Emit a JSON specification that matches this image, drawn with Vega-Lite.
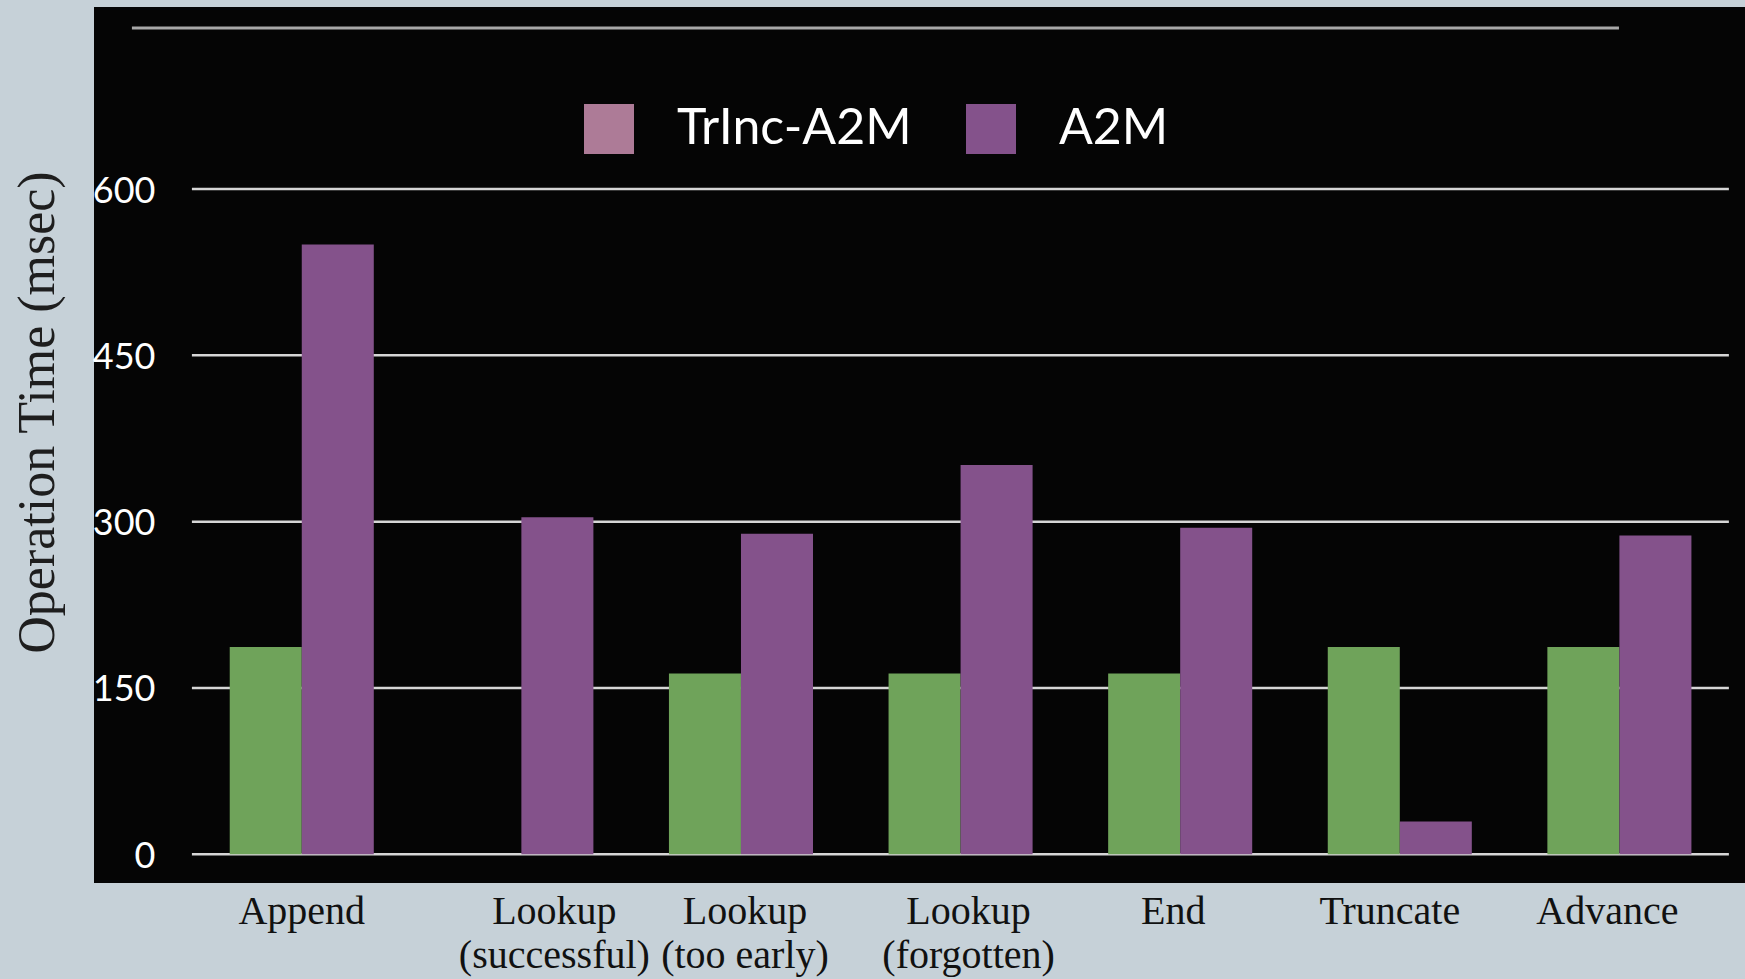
{
  "$schema": "https://vega.github.io/schema/vega-lite/v6.json",
  "width": 1651,
  "height": 876,
  "autosize": {"type": "none"},
  "padding": {"left": 94, "top": 7, "right": 0, "bottom": 96},
  "background": "#c6d1d8",
  "config": {"view": {"fill": "#050505", "stroke": null}},
  "datasets": {
    "bars": [
      {"operation": "Append", "system": "TrInc-A2M", "time": 187},
      {"operation": "Append", "system": "A2M", "time": 550},
      {"operation": "Lookup (successful)", "system": "TrInc-A2M", "time": 0},
      {"operation": "Lookup (successful)", "system": "A2M", "time": 304},
      {"operation": "Lookup (too early)", "system": "TrInc-A2M", "time": 163},
      {"operation": "Lookup (too early)", "system": "A2M", "time": 289},
      {"operation": "Lookup (forgotten)", "system": "TrInc-A2M", "time": 163},
      {"operation": "Lookup (forgotten)", "system": "A2M", "time": 351},
      {"operation": "End", "system": "TrInc-A2M", "time": 163},
      {"operation": "End", "system": "A2M", "time": 294.5},
      {"operation": "Truncate", "system": "TrInc-A2M", "time": 187},
      {"operation": "Truncate", "system": "A2M", "time": 29.5},
      {"operation": "Advance", "system": "TrInc-A2M", "time": 187},
      {"operation": "Advance", "system": "A2M", "time": 287.5}
    ],
    "grid": [{"tick": 0}, {"tick": 150}, {"tick": 300}, {"tick": 450}, {"tick": 600}],
    "underline": [{"label": "title underline"}]
  },
  "layer": [
    {
      "data": {"name": "grid"},
      "mark": {"type": "rule", "color": "#d6d6d6", "strokeWidth": 2.5},
      "encoding": {
        "y": {"field": "tick", "type": "quantitative", "scale": {"domain": [-25.9, 764.2], "nice": false}},
        "x": {"datum": "Append", "type": "nominal", "bandPosition": -0.2625, "scale": {"domain": ["Append", "Lookup (successful)", "Lookup (too early)", "Lookup (forgotten)", "End", "Truncate", "Advance"], "paddingInner": 0.344, "paddingOuter": 0.431, "align": 0.717}},
        "x2": {"datum": "Advance", "bandPosition": 1.26}
      }
    },
    {
      "data": {"name": "underline"},
      "mark": {"type": "rule", "color": "#a8a8a8", "strokeWidth": 3},
      "encoding": {
        "y": {"datum": 745.3, "type": "quantitative", "scale": {"domain": [-25.9, 764.2], "nice": false}},
        "x": {"datum": "Append", "type": "nominal", "bandPosition": -0.679},
        "x2": {"datum": "Advance", "bandPosition": 0.497}
      }
    },
    {
      "data": {"name": "bars"},
      "mark": {"type": "bar"},
      "encoding": {
        "x": {"field": "operation", "type": "nominal", "sort": null},
        "xOffset": {"field": "system", "type": "nominal", "sort": null, "scale": {"domain": ["TrInc-A2M", "A2M"], "paddingInner": 0, "paddingOuter": 0}},
        "y": {"datum": 0, "type": "quantitative"},
        "y2": {"datum": 0},
        "fill": {
          "field": "system",
          "type": "nominal",
          "sort": null,
          "scale": {"domain": ["TrInc-A2M", "A2M"], "range": ["#ad7b97", "#84528b"]},
          "legend": {
            "orient": "none",
            "legendX": 490,
            "legendY": 97,
            "direction": "horizontal",
            "title": null,
            "padding": 0,
            "symbolType": "square",
            "symbolSize": 2500,
            "symbolStrokeWidth": 0,
            "symbolOpacity": 1,
            "labelFont": "Lato",
            "labelFontSize": 50,
            "labelColor": "#ffffff",
            "labelOffset": 43,
            "labelLimit": 400,
            "columnPadding": 54
          }
        }
      }
    },
    {
      "data": {"name": "bars"},
      "mark": {"type": "bar"},
      "encoding": {
        "x": {
          "field": "operation",
          "type": "nominal",
          "sort": null,
          "scale": {"domain": ["Append", "Lookup (successful)", "Lookup (too early)", "Lookup (forgotten)", "End", "Truncate", "Advance"], "paddingInner": 0.344, "paddingOuter": 0.431, "align": 0.717},
          "title": null,
          "axis": {
            "orient": "bottom",
            "title": null,
            "domain": false,
            "ticks": false,
            "grid": false,
            "tickSize": 0,
            "bandPosition": 0.5,
            "labelPadding": 8,
            "labelAngle": 0,
            "labelAlign": "center",
            "labelOffset": {
              "condition": [
                {"test": "datum.value === 'Lookup (successful)'", "value": 33},
                {"test": "datum.value === 'Lookup (forgotten)'", "value": 8},
                {"test": "datum.value === 'Lookup (too early)'", "value": 4},
                {"test": "datum.value === 'End'", "value": -7},
                {"test": "datum.value === 'Truncate'", "value": -10},
                {"test": "datum.value === 'Advance'", "value": -12}
              ],
              "value": 0
            },
            "labelFont": "Liberation Serif",
            "labelFontSize": 40,
            "labelColor": "#111111",
            "labelBaseline": "top",
            "labelLineHeight": 44,
            "labelLimit": 400,
            "labelOverlap": false,
            "labelExpr": "indexof(datum.label, '(') > 0 ? [slice(datum.label, 0, indexof(datum.label, '(') - 1), slice(datum.label, indexof(datum.label, '('))] : datum.label"
          }
        },
        "xOffset": {"field": "system", "type": "nominal", "sort": null, "scale": {"domain": ["TrInc-A2M", "A2M"], "paddingInner": 0, "paddingOuter": 0}},
        "y": {
          "field": "time",
          "type": "quantitative",
          "scale": {"domain": [-25.9, 764.2], "nice": false},
          "title": "Operation Time (msec)",
          "axis": {
            "title": "Operation Time (msec)",
            "values": [0, 150, 300, 450, 600],
            "grid": false,
            "domain": false,
            "ticks": false,
            "tickSize": 0,
            "offset": -61,
            "labelPadding": 0,
            "labelAlign": "right",
            "labelBaseline": "middle",
            "labelOffset": 2,
            "labelFont": "Lato",
            "labelFontSize": 36,
            "labelColor": "#ffffff",
            "labelFlush": false,
            "labelOverlap": false,
            "titleFont": "Liberation Serif",
            "titleFontSize": 52,
            "titleFontWeight": "normal",
            "titleColor": "#1e1e1e",
            "titleAngle": -90,
            "titleAlign": "center",
            "titleBaseline": "alphabetic",
            "titleX": -102,
            "titleY": 405
          }
        },
        "y2": {"datum": 0},
        "color": {
          "field": "system",
          "type": "nominal",
          "sort": null,
          "scale": {"domain": ["TrInc-A2M", "A2M"], "range": ["#6fa35a", "#84528b"]},
          "legend": null
        }
      }
    }
  ]
}
